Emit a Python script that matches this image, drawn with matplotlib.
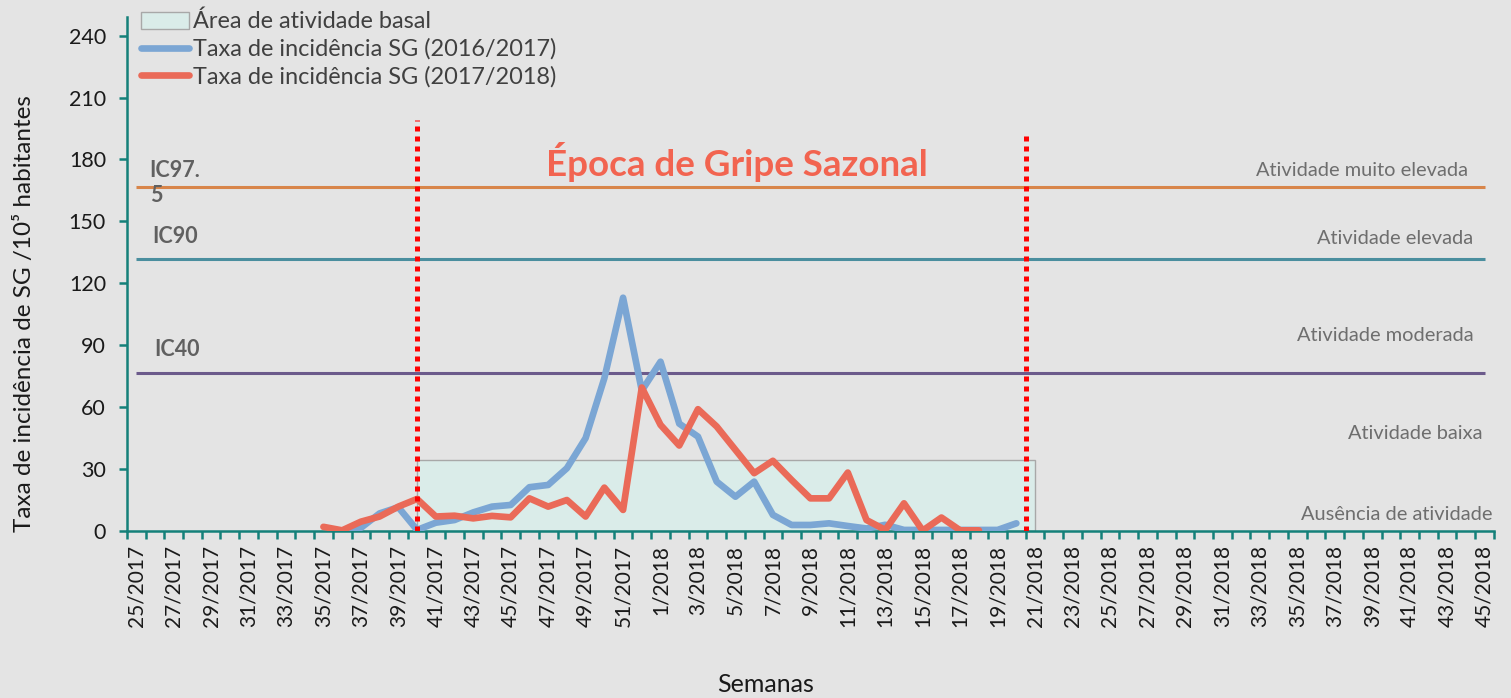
import matplotlib
matplotlib.use("Agg")
import matplotlib.pyplot as plt
from matplotlib.patches import Rectangle
from matplotlib.lines import Line2D
from matplotlib.patches import Patch

plt.rcParams['font.family'] = ['Lato', 'DejaVu Sans']

# ---------------- data ----------------
weeks = [f"{w}/2017" for w in range(25, 53)] + [f"{w}/2018" for w in range(1, 46)]

# 2016/2017 series: starts at index 11 (36/2017) through index 47 (20/2018)
blue_start = 11
blue_vals = [0, 1.5, 8.5, 11.5, 0.5, 4, 5.3, 9, 11.8, 12.6, 21.2, 22.3, 30.4, 45,
             74, 113, 68, 82, 52, 45.7, 23.9, 16.6, 23.9, 7.8, 2.9, 2.9, 3.7, 2.4,
             1.2, 3, 0.5, 0.5, 0.5, 0.5, 0.5, 0.5, 3.7]

# 2017/2018 series: starts at index 10 (35/2017) through index 45 (18/2018)
red_start = 10
red_vals = [2, 0.3, 4.5, 7, 11.8, 15.5, 7, 7.4, 6.1, 7.3, 6.6, 15.8, 11.8, 15, 7,
            21, 10.2, 69.5, 51.4, 41.4, 59, 50.6, 39.3, 28, 34, 24.7, 15.8, 15.8,
            28.3, 5.3, 0.5, 13.4, 0.2, 6.5, 0.3, 0.3]

thresholds = [166.8, 131.9, 76.6]
threshold_labels = ["IC97.\n5", "IC90", "IC40"]
activity_labels = ["Atividade muito elevada", "Atividade elevada", "Atividade moderada",
                   "Atividade baixa", "Ausência de atividade"]
activity_y = [174.5, 141.9, 94.7, 47.4, 8.1]

basal_start, basal_end, basal_top = 15, 48, 34.5
season_start, season_end = 15, 47.5
season_start_top, season_end_top = 199, 194

legend_labels = ["Área de atividade basal", "Taxa de incidência SG (2016/2017)",
                 "Taxa de incidência SG (2017/2018)"]

# ---------------- style ----------------
BG = "#E4E4E4"
TEAL = "#148079"
BLUE = "#7BA6D4"
RED = "#EA6A58"
BASAL = "#DAECE9"

fig = plt.figure(figsize=(15.11, 6.98), dpi=100, facecolor=BG)
ax = fig.add_axes([0.0839, 0.2393, 0.9887 - 0.0839, 0.9756 - 0.2393], facecolor=BG)

n = len(weeks)
ax.set_xlim(-0.5, n - 0.5)
ax.set_ylim(0, 249)

# basal area
ax.add_patch(Rectangle((basal_start, 0), basal_end - basal_start, basal_top,
                       facecolor=BASAL, edgecolor="#A8A8A8", linewidth=1.0, zorder=1))

# threshold lines
th_colors = ["#D8854A", "#4A8E9E", "#6B5A8B"]
for val, col in zip(thresholds, th_colors):
    ax.hlines(val, 0, n - 1, colors=col, linewidth=2.2, zorder=2)

# series
bx = list(range(blue_start, blue_start + len(blue_vals)))
rx = list(range(red_start, red_start + len(red_vals)))
ax.plot(bx, blue_vals, color=BLUE, linewidth=4.8, solid_joinstyle='round',
        solid_capstyle='round', zorder=3)
ax.plot(rx, red_vals, color=RED, linewidth=4.8, solid_joinstyle='round',
        solid_capstyle='round', zorder=4)

# season markers
for xv, top in [(season_start, season_start_top), (season_end, season_end_top)]:
    ax.vlines(xv, 0, top, colors="#FF0000", linewidth=3.6,
              linestyles=(0, (1, 1)), zorder=5)

ax.text(32.1, 179, "Época de Gripe Sazonal", color="#F26450", fontsize=26.5,
        fontweight="bold", ha="center", va="center", zorder=6)

# IC labels
ax.text(0.72, 168.5, threshold_labels[0], color="#606060", fontsize=15.5,
        fontweight="bold", ha="left", va="center", linespacing=1.2)
ax.text(0.87, 142.5, threshold_labels[1], color="#606060", fontsize=15.5,
        fontweight="bold", ha="left", va="center")
ax.text(0.97, 87.8, threshold_labels[2], color="#606060", fontsize=15.5,
        fontweight="bold", ha="left", va="center")

right_x = [71.1, 71.4, 71.4, 71.9, 72.4]
for lab, yv, xv in zip(activity_labels, activity_y, right_x):
    ax.text(xv, yv, lab, color="#6E6E6E", fontsize=14.4, ha="right", va="center")

# axes styling
for s in ["top", "right"]:
    ax.spines[s].set_visible(False)
for s in ["left", "bottom"]:
    ax.spines[s].set_color(TEAL)
    ax.spines[s].set_linewidth(1.8)

ax.set_yticks(range(0, 241, 30))
ax.tick_params(axis="y", colors=TEAL, length=6, width=1.8, labelsize=15.5,
               labelcolor="#1A1A1A", pad=9)
ax.set_xticks(range(0, n, 2))
ax.set_xticklabels(weeks[::2], rotation=90)
ax.set_xticks([i - 0.5 for i in range(n + 1)], minor=True)
ax.tick_params(axis="x", which="major", length=0, labelsize=15,
               labelcolor="#1A1A1A", pad=10)
ax.tick_params(axis="x", which="minor", length=6, width=1.8, colors=TEAL)

fig.text(25 / 1511, 1 - 314 / 698, "Taxa de incidência de SG /10⁵ habitantes",
         fontsize=17.5, color="#1A1A1A", rotation=90, ha="center", va="center")
fig.text(766 / 1511, 1 - 684 / 698, "Semanas", fontsize=18, color="#1A1A1A",
         ha="center", va="center")

handles = [Patch(facecolor=BASAL, edgecolor="#A8A8A8", linewidth=1.0),
           Line2D([], [], color=BLUE, linewidth=4.8, solid_capstyle='round'),
           Line2D([], [], color=RED, linewidth=4.8, solid_capstyle='round')]
leg = fig.legend(handles, legend_labels, loc="upper left",
                 bbox_to_anchor=(141 / 1511, 1 - 11 / 698), frameon=False,
                 fontsize=16.9, handlelength=2.05, handletextpad=0.17,
                 labelspacing=0.25, borderaxespad=0, borderpad=0)
for t in leg.get_texts():
    t.set_color("#404040")

fig.savefig("out.png", dpi=100, facecolor=BG)
